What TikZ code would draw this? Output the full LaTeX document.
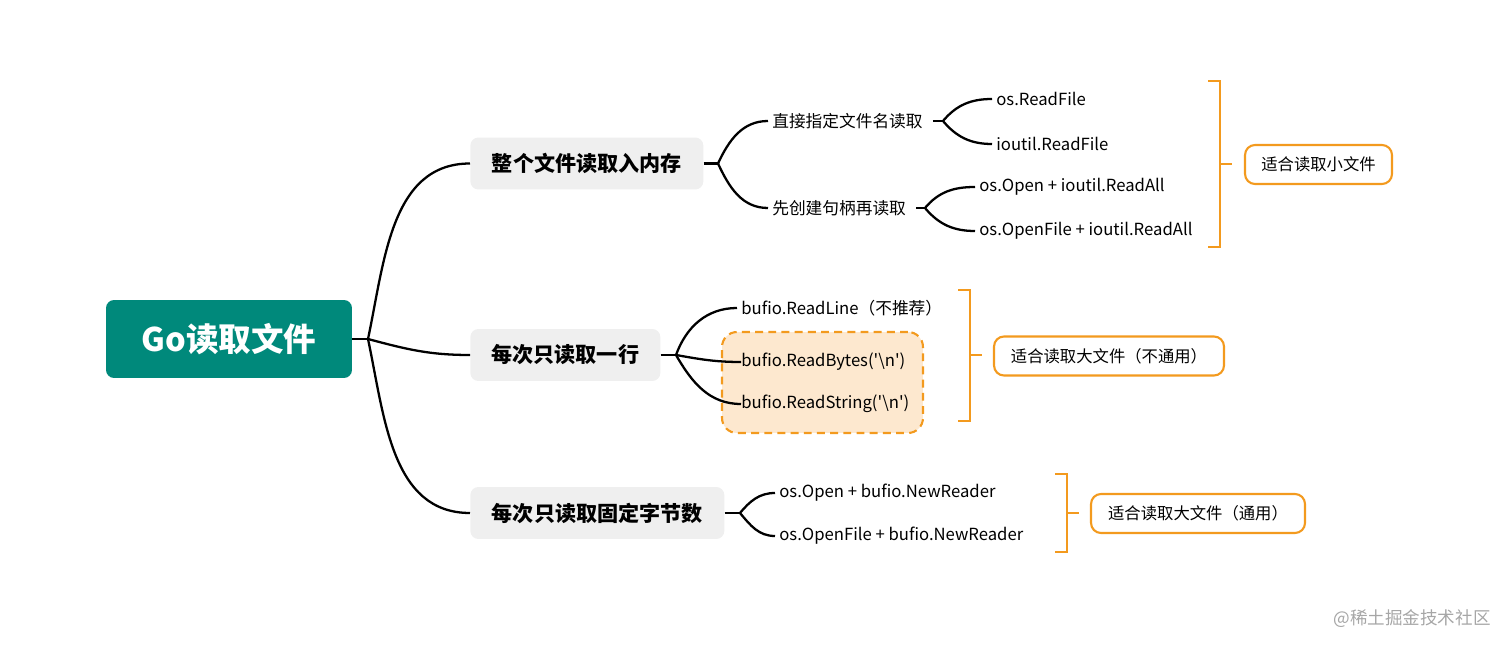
\documentclass[tikz,border=0pt]{standalone}
\usepackage{fontspec}
\setmainfont{Noto Sans CJK SC}
\usetikzlibrary{positioning}
\usetikzlibrary{calc}

\definecolor{rootgreen}{HTML}{00897B}
\definecolor{topicgray}{HTML}{EFEFEF}
\definecolor{noteorange}{HTML}{F39A1E}
\definecolor{notefill}{HTML}{FDE8CF}

\begin{document}
\begin{tikzpicture}[
    x=0.02cm, y=-0.02cm,
    branch/.style = {black, line width=1.3pt},
    rootbox/.style = {
      fill = rootgreen, text = white, rounded corners = 0.16cm,
      minimum width = 4.92cm, minimum height = 1.56cm,
      inner sep = 0pt,
      font = \fontsize{18.5}{22}\selectfont\bfseries,
    },
    topic/.style = {
      fill = topicgray, rounded corners = 0.16cm, anchor = west,
      minimum height = 1.04cm, inner sep = 0pt,
      font = \fontsize{12}{14}\selectfont\bfseries,
    },
    leaf/.style = {
      anchor = west, inner xsep = 0.08cm, inner ysep = 0pt,
      font = \fontsize{9.5}{11}\selectfont,
    },
    note/.style = {
      draw = noteorange, line width = 1.2pt, fill = white,
      rounded corners = 0.2cm, minimum height = 0.78cm, inner sep = 0pt,
      font = \fontsize{9.3}{11}\selectfont,
    },
    bracket/.style = {draw = noteorange, line width = 1.4pt},
  ]
  \useasboundingbox (0,0) rectangle (1512,648);

  % centre
  \node[rootbox] (Root) at (229,339) {Go读取文件};
  \coordinate (J0) at (368,339);

  \node[topic, minimum width=4.66cm] (C1) at (470,163.5) {整个文件读取入内存};
  \node[topic, minimum width=3.80cm] (C2) at (470,355) {每次只读取一行};
  \node[topic, minimum width=5.08cm] (C3) at (470,513) {每次只读取固定字节数};

  \draw[branch] (Root.east) -- (J0);
  \draw[branch] (J0) to[out=78, in=180] (C1.west);
  \draw[branch] (J0) to[out=-15, in=180] (C2.west);
  \draw[branch] (J0) to[out=-78, in=180] (C3.west);

  % whole file
  \node[leaf] (L11) at (768,121) {直接指定文件名读取};
  \node[leaf] (L12) at (768,208) {先创建句柄再读取};
  \coordinate (J1) at (718,163.5);
  \draw[branch] (C1.east) -- (J1);
  \draw[branch] (J1) to[out=65, in=180] (L11.west);
  \draw[branch] (J1) to[out=-65, in=180] (L12.west);

  \node[leaf] (L111) at (992,99) {os.ReadFile};
  \node[leaf] (L112) at (992,144) {ioutil.ReadFile};
  \coordinate (J11) at (943,121);
  \draw[branch] ($(L11.east)+(6,0)$) -- (J11);
  \draw[branch] (J11) to[out=50, in=180] (L111.west);
  \draw[branch] (J11) to[out=-50, in=180] (L112.west);

  \node[leaf] (L121) at (975,187) {os.Open + ioutil.ReadAll};
  \node[leaf] (L122) at (975,231) {os.OpenFile + ioutil.ReadAll};
  \coordinate (J12) at (925,208);
  \draw[branch] ($(L12.east)+(6,0)$) -- (J12);
  \draw[branch] (J12) to[out=50, in=180] (L121.west);
  \draw[branch] (J12) to[out=-50, in=180] (L122.west);

  % line by line
  \node[draw=noteorange, dash pattern=on 4.5pt off 3pt, line width=1.2pt,
        fill=notefill, rounded corners=0.3cm,
        minimum width=4.02cm, minimum height=2.02cm]
    (Hi) at (822.5,382.5) {};
  \node[leaf] (L21) at (737,308) {bufio.ReadLine（不推荐）};
  \node[leaf, inner xsep=0pt] (L22) at (741,362) {bufio.ReadBytes(\textquotesingle\textbackslash n\textquotesingle)};
  \node[leaf, inner xsep=0pt] (L23) at (741,404) {bufio.ReadString(\textquotesingle\textbackslash n\textquotesingle)};
  \coordinate (J2) at (676,355);
  \draw[branch] (C2.east) -- (J2);
  \draw[branch] (J2) to[out=70, in=180] (L21.west);
  \draw[branch] (J2) to[out=-10, in=180] (L22.west);
  \draw[branch] (J2) to[out=-60, in=180] (L23.west);

  % fixed bytes
  \node[leaf] (L31) at (775,493) {os.Open + bufio.NewReader};
  \node[leaf] (L32) at (775,536) {os.OpenFile + bufio.NewReader};
  \coordinate (J3) at (740,513);
  \draw[branch] (C3.east) -- (J3);
  \draw[branch] (J3) to[out=50, in=180] (L31.west);
  \draw[branch] (J3) to[out=-50, in=180] (L32.west);

  % notes
  \draw[bracket] (1208,81) -| (1220,247) -- (1208,247);
  \draw[bracket] (1220,164) -- (1232,164);
  \node[note, minimum width=2.94cm] (N1) at (1318.5,164.5) {适合读取小文件};

  \draw[bracket] (958,290) -| (970,421) -- (958,421);
  \draw[bracket] (970,355) -- (982,355);
  \node[note, minimum width=4.60cm] (N2) at (1109,356) {适合读取大文件（不通用）};

  \draw[bracket] (1055,474) -| (1067,552) -- (1055,552);
  \draw[bracket] (1067,513) -- (1079,513);
  \node[note, minimum width=4.28cm] (N3) at (1198,513.5) {适合读取大文件（通用）};

  \node[text=black!35, font=\fontsize{10}{12}\selectfont] (WM) at (1412,619) {@稀土掘金技术社区};
\end{tikzpicture}
\end{document}
